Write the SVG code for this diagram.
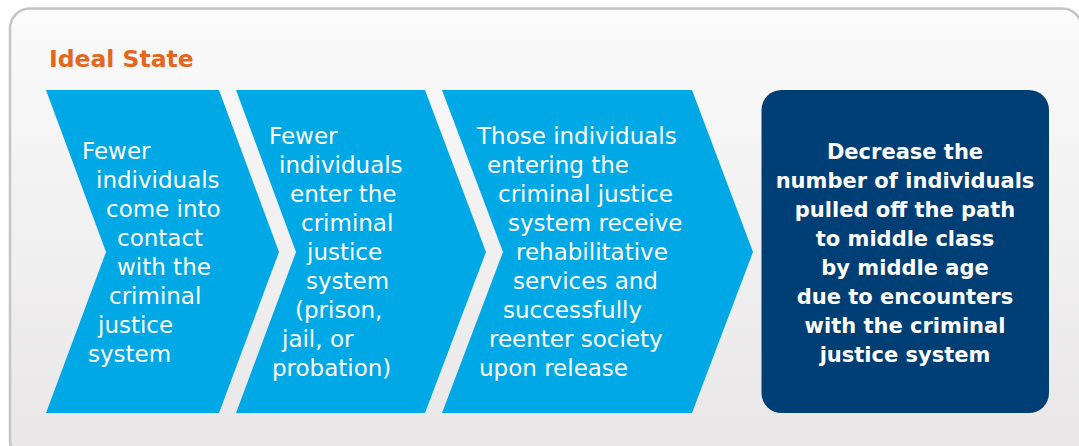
<svg xmlns="http://www.w3.org/2000/svg" width="1079" height="446" viewBox="0 0 1079 446">
  <defs>
    <linearGradient id="bg" x1="0" y1="0" x2="0" y2="1">
      <stop offset="0" stop-color="#fbfbfb"/>
      <stop offset="1" stop-color="#e8e6e7"/>
    </linearGradient>
  </defs>
  <style>
    .chev { fill: #00a9e6; }
    .goal { fill: #003f75; }
    .t { font-family: "DejaVu Sans", "Liberation Sans", sans-serif; font-size: 23px; fill: #ffffff; }
    .tb { font-family: "DejaVu Sans", "Liberation Sans", sans-serif; font-size: 21px; font-weight: bold; fill: #ffffff; text-anchor: middle; }
    .title { font-family: "DejaVu Sans", "Liberation Sans", sans-serif; font-size: 23.5px; font-weight: bold; fill: #e5661d; }
  </style>
  <rect x="0" y="0" width="1079" height="446" fill="#ffffff"/>
  <rect id="panel" x="10" y="8.5" width="1072" height="452" rx="20" ry="20" fill="url(#bg)" stroke="#c6c4c4" stroke-width="2.5"/>
  <text class="title" x="49" y="67">Ideal State</text>

  <g id="connectors"></g>

  <g id="step1">
    <path class="chev" d="M46,90 L219,90 L279,252 L219,413 L46,413 L106,252 Z"/>
    <text class="t" x="82" y="159">Fewer</text>
    <text class="t" x="96" y="188">individuals</text>
    <text class="t" x="106" y="217">come into</text>
    <text class="t" x="117" y="246">contact</text>
    <text class="t" x="117" y="275">with the</text>
    <text class="t" x="109" y="304">criminal</text>
    <text class="t" x="98" y="333">justice</text>
    <text class="t" x="88" y="362">system</text>
  </g>

  <g id="step2">
    <path class="chev" d="M236,90 L425,90 L486,252 L425,413 L236,413 L296,252 Z"/>
    <text class="t" x="269" y="144">Fewer</text>
    <text class="t" x="279" y="173">individuals</text>
    <text class="t" x="290" y="202">enter the</text>
    <text class="t" x="301" y="231">criminal</text>
    <text class="t" x="307" y="260">justice</text>
    <text class="t" x="306" y="289">system</text>
    <text class="t" x="295" y="318">(prison,</text>
    <text class="t" x="282" y="347">jail, or</text>
    <text class="t" x="272" y="376">probation)</text>
  </g>

  <g id="step3">
    <path class="chev" d="M442,90 L692,90 L753,252 L692,413 L442,413 L503,252 Z"/>
    <text class="t" x="477" y="144">Those individuals</text>
    <text class="t" x="487" y="173">entering the</text>
    <text class="t" x="498" y="202">criminal justice</text>
    <text class="t" x="508" y="231">system receive</text>
    <text class="t" x="516" y="260">rehabilitative</text>
    <text class="t" x="513" y="289">services and</text>
    <text class="t" x="503" y="318">successfully</text>
    <text class="t" x="489" y="347">reenter society</text>
    <text class="t" x="479" y="376">upon release</text>
  </g>

  <g id="goal">
    <rect class="goal" x="761.5" y="90" width="287.5" height="323" rx="20" ry="20"/>
    <text class="tb" x="905" y="159">Decrease the</text>
    <text class="tb" x="905" y="188">number of individuals</text>
    <text class="tb" x="905" y="217">pulled off the path</text>
    <text class="tb" x="905" y="246">to middle class</text>
    <text class="tb" x="905" y="275">by middle age</text>
    <text class="tb" x="905" y="304">due to encounters</text>
    <text class="tb" x="905" y="333">with the criminal</text>
    <text class="tb" x="905" y="362">justice system</text>
  </g>
</svg>
